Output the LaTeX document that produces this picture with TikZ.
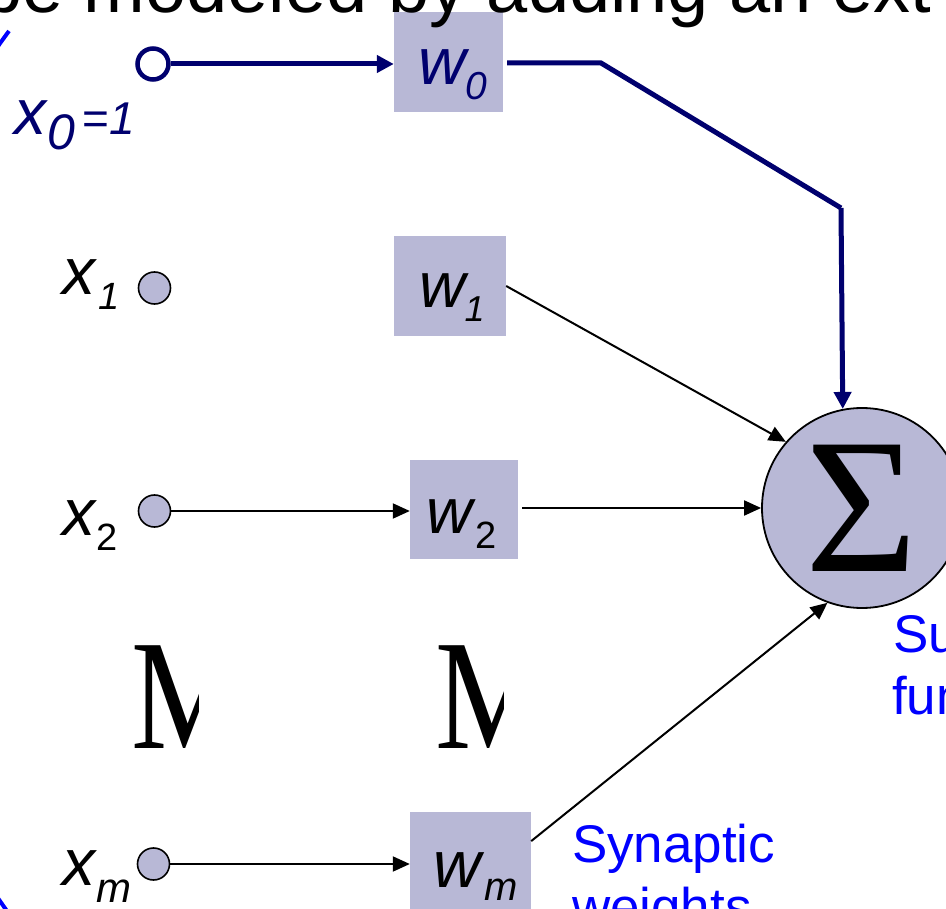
\documentclass[tikz,border=0pt]{standalone}
\usepackage{fontspec}
\setmainfont{Liberation Sans}
\newfontfamily\timesfont{Liberation Serif}
\usetikzlibrary{arrows.meta}
\definecolor{lav}{RGB}{184,184,214}
\definecolor{navyc}{RGB}{0,0,110}
\definecolor{blueT}{RGB}{0,0,255}
\newcommand\myfs[1]{\fontsize{#1}{#1}\selectfont}
\tikzset{
  inputdot/.style={circle, fill=lav, draw=black, line width=1.6pt, minimum size=32pt, inner sep=0pt},
  biasdot/.style={circle, fill=white, draw=navyc, line width=4.5pt, minimum size=31pt, inner sep=0pt},
  wbox/.style={rectangle, fill=lav, inner sep=0pt, minimum height=100pt},
  lbl/.style={anchor=base west, inner sep=0pt, outer sep=0pt},
  thinarrow/.style={black, line width=2pt, -{Triangle[length=17pt,width=15pt]}},
  biasline/.style={navyc, line width=5pt},
  biasarrow/.style={biasline, -{Triangle[length=17pt,width=17pt]}},
  note/.style={lbl, text=blueT, font=\myfs{53}},
}
\begin{document}
\begin{tikzpicture}[x=1pt,y=-1pt]
\useasboundingbox (0,0) rectangle (946,909);
\clip (0,0) rectangle (946,909);
\fill[white] (0,0) rectangle (946,909);

% blue bracket arc (cut off)
\draw[blueT, line width=4pt] (9,31) .. controls (-190,300) and (-190,640) .. (12,918);

% weight boxes
\node[wbox, minimum width=109pt] (w0) at (448.5,62) {};
\node[wbox, minimum width=112pt] (w1) at (450,286) {};
\node[wbox, minimum width=108pt, minimum height=99pt] (w2) at (464,509.5) {};
\node[wbox, minimum width=121pt] (wm) at (470.5,862) {};

% cut-off title
\node[lbl] (title) at (-19,13) {\myfs{74}be modeled by adding an ext};

% summing junction
\node[circle, fill=lav, draw=black, line width=1.8pt, minimum size=200pt, inner sep=0pt] (sigma) at (862,508) {\raisebox{-6pt}{\timesfont\myfs{193}Σ}};

% inputs
\node[biasdot] (x0c) at (153,64) {};
\node[inputdot] (x1c) at (154.5,288) {};
\node[inputdot] (x2c) at (154.5,511) {};
\node[inputdot] (xmc) at (153.5,864) {};

% input labels
\node[lbl, text=navyc] (x0l) at (14,135) {\myfs{64}\textit{x}\raisebox{-15pt}{\myfs{50}\textit{0}}\hspace{7pt}\myfs{46}=\textit{1}};
\node[lbl] (x1l) at (62,295) {\myfs{66}\textit{x}\hspace{2pt}\raisebox{-15pt}{\myfs{38}\textit{1}}};
\node[lbl] (x2l) at (62,535) {\myfs{66}\textit{x}\raisebox{-15pt}{\myfs{38}2}};
\node[lbl] (xml) at (62,885) {\myfs{66}\textit{x}\raisebox{-17pt}{\myfs{42}\textit{m}}};

% weight labels
\node[lbl, text=navyc] (w0l) at (418,85) {\myfs{66}\textit{w}\hspace{-4pt}\raisebox{-15pt}{\myfs{39}\textit{0}}};
\node[lbl] (w1l) at (419,308) {\myfs{64}\textit{w}\hspace{-4pt}\raisebox{-14pt}{\myfs{36}\textit{1}}};
\node[lbl] (w2l) at (426,533) {\myfs{64}\textit{w}\raisebox{-15pt}{\myfs{38}2}};
\node[lbl] (wml) at (433,887) {\myfs{66}\textit{w}\raisebox{-13pt}{\myfs{40}\textit{m}}};

% vertical ellipses (clipped glyphs)
\begin{scope}
  \clip (120,600) rectangle (198,770);
  \node[lbl] (dots1) at (131,748) {\timesfont\myfs{157}\scalebox{0.82}[1]{M}};
\end{scope}
\begin{scope}
  \clip (425,600) rectangle (503,770);
  \node[lbl] (dots2) at (435,748) {\timesfont\myfs{157}\scalebox{0.82}[1]{M}};
\end{scope}

% blue notes
\node[note] (syn1) at (572,862) {Synaptic};
\node[note] (syn2) at (572,925) {weights};
\node[note] (sum1) at (893,652) {Summing};
\node[note] (sum2) at (892,714) {function};

% bias path
\coordinate (b1) at (601,63);
\coordinate (b2) at (841,208);
\draw[biasarrow] (x0c.east) -- (x0c.east -| w0.west);
\draw[biasline, shorten <=4pt] (w0.east |- b1) -- (b1) -- (b2);
\draw[biasarrow] (b2) -- (sigma.101.5);

% input connectors
\draw[thinarrow] (x2c.east) -- (x2c.east -| w2.west);
\draw[thinarrow] (xmc.east) -- (xmc.east -| wm.west);
\draw[thinarrow] (w1.east) -- (sigma.139.5);
\draw[thinarrow, shorten <=4pt] (w2.east |- sigma.west) -- (sigma.west);
\draw[thinarrow] (wm.19) -- (sigma.250.6);
\end{tikzpicture}
\end{document}
